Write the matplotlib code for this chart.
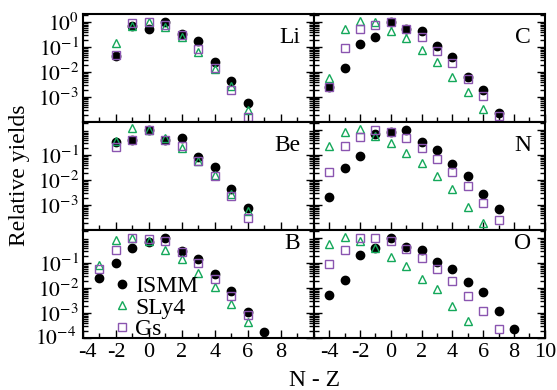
import numpy as np
import matplotlib
matplotlib.use("Agg")
import matplotlib.pyplot as plt
from matplotlib.ticker import LogLocator, MultipleLocator, NullFormatter
from matplotlib.transforms import ScaledTranslation

plt.rcParams["font.family"] = ["Liberation Serif", "DejaVu Serif"]
plt.rcParams["mathtext.fontset"] = "stix"
plt.rcParams["axes.unicode_minus"] = False

nan = np.nan

# N - Z values and yields per element
li_n = [-2, -1, 0, 1, 2, 3, 4, 5, 6]
li_ismm = [0.044, 0.69, 0.52, 1.0, 0.33, 0.17, 0.025, 0.0044, 5.7e-4]
li_sly4 = [0.14, 0.69, 1.0, 0.65, 0.25, 0.063, 0.013, 0.0028, 3.0e-4]
li_gs = [0.047, 0.95, 1.0, 0.8, 0.30, 0.083, 0.0145, 0.0019, 1.6e-4]

be_n = [-2, -1, 0, 1, 2, 3, 4, 5, 6]
be_ismm = [0.34, 0.4, 1.0, 0.4, 0.48, 0.083, 0.033, 0.0044, 7.6e-4]
be_sly4 = [0.37, 1.2, 1.0, 0.5, 0.2, 0.06, 0.016, 0.0027, 5.7e-4]
be_gs = [0.21, 0.4, 1.0, 0.4, 0.23, 0.058, 0.0145, 0.0023, 3.0e-4]

b_n = [-3, -2, -1, 0, 1, 2, 3, 4, 5, 6, 7]
b_ismm = [0.026, 0.1, 0.41, 0.71, 1.0, 0.3, 0.15, 0.036, 0.0076, 0.0011, 1.7e-4]
b_sly4 = [0.083, 0.83, 1.0, 0.8, 0.35, 0.14, 0.039, 0.011, 0.0023, 4.5e-4, nan]
b_gs = [0.057, 0.33, 1.0, 0.9, 0.76, 0.28, 0.097, 0.023, 0.0049, 8.3e-4, nan]

c_n = [-4, -3, -2, -1, 0, 1, 2, 3, 4, 5, 6, 7]
c_ismm = [0.0025, 0.0145, 0.13, 0.25, 1.0, 0.52, 0.44, 0.11, 0.04, 0.0063, 0.0019, 2.3e-4]
c_sly4 = [0.0058, 0.52, 1.1, 1.0, 0.44, 0.23, 0.076, 0.025, 0.0063, 0.0016, 3.3e-4, nan]
c_gs = [0.0025, 0.091, 0.52, 0.76, 1.0, 0.52, 0.25, 0.07, 0.023, 0.0052, 0.0011, 1.7e-4]

n_n = [-4, -3, -2, -1, 0, 1, 2, 3, 4, 5, 6, 7]
n_ismm = [0.0021, 0.03, 0.091, 0.69, 0.83, 1.0, 0.33, 0.16, 0.044, 0.0145, 0.0028, 6.9e-4]
n_sly4 = [0.23, 0.83, 1.1, 0.58, 0.3, 0.12, 0.048, 0.0145, 0.0044, 8.3e-4, 1.9e-4, nan]
n_gs = [0.021, 0.23, 0.52, 1.0, 0.83, 0.48, 0.19, 0.069, 0.021, 0.0058, 0.0012, 2.5e-4]

o_n = [-4, -3, -2, -1, 0, 1, 2, 3, 4, 5, 6, 7, 8]
o_ismm = [0.0052, 0.021, 0.22, 0.41, 1.0, 0.45, 0.33, 0.11, 0.061, 0.017, 0.0068, 0.0012, 2.4e-4]
o_sly4 = [0.58, 1.07, 0.76, 0.41, 0.17, 0.076, 0.024, 0.0089, 0.0019, 4.8e-4, nan, nan, nan]
o_gs = [0.091, 0.33, 1.0, 1.0, 0.76, 0.36, 0.16, 0.058, 0.019, 0.0049, 0.0012, 2.3e-4, nan]

panels = [
    ("Li", li_n, li_ismm, li_sly4, li_gs),
    ("C", c_n, c_ismm, c_sly4, c_gs),
    ("Be", be_n, be_ismm, be_sly4, be_gs),
    ("N", n_n, n_ismm, n_sly4, n_gs),
    ("B", b_n, b_ismm, b_sly4, b_gs),
    ("O", o_n, o_ismm, o_sly4, o_gs),
]

green = "#14a85a"
purple = "#8a55b0"

fig = plt.figure(figsize=(5.57, 3.90), dpi=100)
gs = fig.add_gridspec(3, 2, left=0.149, right=0.978, top=0.964, bottom=0.133,
                      wspace=0, hspace=0)

row_labels = {
    0: [1, 0.1, 0.01, 0.001],
    1: [0.1, 0.01, 0.001],
    2: [0.1, 0.01, 0.001, 0.0001],
}
name_y = {0: 0.88, 1: 0.88, 2: 0.975}

for i, (name, n, ismm, sly4, gsv) in enumerate(panels):
    r, c = divmod(i, 2)
    ax = fig.add_subplot(gs[r, c])
    ax.set_yscale("log")
    ax.plot(n, ismm, "o", color="black", ms=6, label="ISMM", zorder=3)
    ax.plot(n, sly4, "^", mfc="none", mec=green, mew=1.0, ms=6, label="SLy4", zorder=4)
    ax.plot(n, gsv, "s", mfc="none", mec=purple, mew=1.0, ms=5.5, label="Gs", zorder=5)

    ax.set_xlim(-4, 10) if c == 0 else ax.set_xlim(-5, 10)
    ax.xaxis.set_major_locator(MultipleLocator(2))
    ax.xaxis.set_minor_locator(MultipleLocator(1))
    ax.yaxis.set_major_locator(LogLocator(base=10, numticks=10))
    ax.yaxis.set_minor_locator(LogLocator(base=10, subs=np.arange(2, 10), numticks=10))
    ax.yaxis.set_minor_formatter(NullFormatter())
    ax.tick_params(which="both", direction="in", left=True, right=True, top=False,
                   bottom=True, labelsize=16, width=1.0)
    ax.tick_params(axis="y", labelsize=15.5, pad=3)
    ax.tick_params(which="major", length=6)
    ax.tick_params(which="minor", length=3.5)
    for sp in ax.spines.values():
        sp.set_linewidth(1.5)

    if c == 0:
        vals = row_labels[r]
        ax.set_yticks(vals)
        ax.set_yticklabels([r"$10^{%d}$" % int(round(np.log10(v))) for v in vals])
    else:
        ax.set_yticklabels([])
    ax.set_ylim(1e-4, 2.1)

    if r == 2:
        if c == 0:
            ax.set_xticks([-4, -2, 0, 2, 4, 6, 8])
        else:
            ax.set_xticks([-4, -2, 0, 2, 4, 6, 8, 10])
        ax.xaxis.set_minor_locator(MultipleLocator(1))
    else:
        ax.set_xticklabels([])

    if r == 2 and c == 0:
        # keep the lowest y label clear of the first x label
        lab = ax.get_yticklabels()[-1]
        lab.set_transform(lab.get_transform() + ScaledTranslation(-2 / 72, 1 / 72, fig.dpi_scale_trans))
        xl = ax.get_xticklabels()[0]
        xl.set_transform(xl.get_transform() + ScaledTranslation(3 / 72, 0, fig.dpi_scale_trans))

    ax.text(0.94, name_y[r], name, transform=ax.transAxes, ha="right", va="top", fontsize=17)

    if r == 2 and c == 0:
        ax.legend(loc="lower left", bbox_to_anchor=(0.13, -0.04), frameon=False,
                  fontsize=17, handlelength=0.6, handletextpad=0.25,
                  labelspacing=0.0, borderaxespad=0, borderpad=0.1)

fig.text(0.035, 0.55, "Relative yields", rotation=90, ha="center", va="center", fontsize=17)
fig.text(0.565, 0.025, "N - Z", ha="center", va="center", fontsize=17)

fig.savefig("out.png", dpi=100)
